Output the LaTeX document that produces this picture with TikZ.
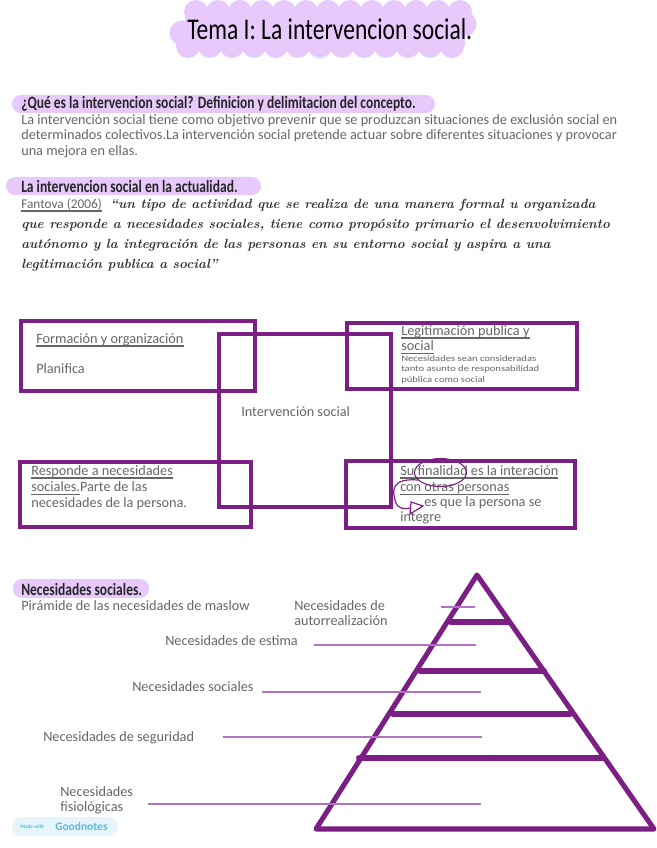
\documentclass[tikz,border=0pt]{standalone}
\usepackage{fontspec}
\usepackage{xcolor}
\setmainfont{Carlito}
\newfontfamily\headfont[FakeStretch=0.78]{Carlito}
\newfontfamily\widefont[FakeStretch=1.22]{Carlito}
\newfontfamily\quotefont{Latin Modern Roman}
\definecolor{pillpurple}{HTML}{E8C9FB}
\definecolor{boxpurple}{HTML}{7B1F84}
\definecolor{leadpurple}{HTML}{B272C2}
\definecolor{notegray}{HTML}{666666}
\definecolor{badgeblue}{HTML}{E6F5FA}
\definecolor{goodblue}{HTML}{5DB9D8}
\newcommand{\ulword}[1]{\setbox0=\hbox{#1}\rlap{\raisebox{-2.6pt}{\rule{\wd0}{1.1pt}}}\box0 }
\tikzset{
  pill/.style={fill=pillpurple,rounded corners=6.7pt},
  boxline/.style={draw=boxpurple,line width=2.6pt},
  pyrline/.style={draw=boxpurple,line width=3.8pt,line cap=round},
  barline/.style={draw=boxpurple,line width=4.6pt,line cap=round},
  leader/.style={draw=leadpurple,line width=1.2pt},
  headtext/.style={anchor=west,inner sep=0pt,text=black!85,font=\headfont\bfseries\fontsize{13}{15}\selectfont},
  bodytext/.style={anchor=north west,inner sep=0pt,align=left,text=notegray,font=\fontsize{10.7}{11.6}\selectfont},
  smalltext/.style={anchor=north west,inner sep=0pt,align=left,text=notegray,font=\widefont\fontsize{6.5}{8}\selectfont},
  quotetext/.style={anchor=west,inner sep=0pt,text=black!80,font=\quotefont\itshape\bfseries\fontsize{10}{12}\selectfont},
}
\begin{document}
\begin{tikzpicture}[x=0.75pt,y=-0.75pt]
  \useasboundingbox (0,0) rectangle (656,848);
  % title blob
  \fill[pillpurple] (185,12) rectangle (465,46);
  \fill[pillpurple] (182,33) circle (12.5);
  \fill[pillpurple] (464,24) circle (12.5);
  \foreach \xa in {196,218,...,460} {
    \fill[pillpurple] (\xa,12) circle (12);
    \fill[pillpurple] (\xa-8,46) circle (12);
  }
  \node[anchor=west,inner sep=0pt,text=black,font=\headfont\fontsize{22.6}{26}\selectfont] (title) at (187,29) {Tema I: La intervencion social.};

  % first part
  \fill[pill] (12,95) rectangle (435,113);
  \node[headtext] (whathead) at (21,104) {¿Qué es la intervencion social? Definicion y delimitacion del concepto.};
  \node[bodytext] (whatbody) at (21,114) {La intervención social tiene como objetivo prevenir que se produzcan situaciones de exclusión social en\\determinados colectivos.La intervención social pretende actuar sobre diferentes situaciones y provocar\\una mejora en ellas.};

  \fill[pill] (6,177) rectangle (261,195);
  \node[headtext] (nowhead) at (21,186) {La intervencion social en la actualidad.};
  \node[anchor=west,inner sep=0pt,text=notegray,font=\fontsize{10}{12}\selectfont] (fantova) at (21,205) {\ulword{Fantova (2006)}};
  \node[quotetext] (quotea) at (110,205) {“un tipo de actividad que se realiza de una manera formal u organizada};
  \node[quotetext] (quoteb) at (21,225) {que responde a necesidades sociales, tiene como propósito primario el desenvolvimiento};
  \node[quotetext] (quotec) at (21,245) {autónomo y la integración de las personas en su entorno social y aspira a una};
  \node[quotetext] (quoted) at (21,265) {legitimación publica a social”};

  % boxes
  \draw[boxline] (21,321) rectangle (255,391);
  \draw[boxline] (219,334) rectangle (391,507);
  \draw[boxline] (347,323) rectangle (577,389);
  \draw[boxline] (20,462) rectangle (251,527);
  \draw[boxline] (346,461) rectangle (575,528);

  \node[bodytext] (formhead) at (36,333) {\ulword{Formación y organización}};
  \node[bodytext] (planifica) at (36,363) {Planifica};
  \node[bodytext] (centre) at (241,406) {Intervención social};
  \node[bodytext] (leghead) at (401,325) {\ulword{Legitimación publica y}\\[0pt]\ulword{social}};
  \node[smalltext] (legbody) at (401,355) {Necesidades sean consideradas\\tanto asunto de responsabilidad\\pública como social};
  \node[bodytext] (respbody) at (31,465) {\ulword{Responde a necesidades}\\[1pt]\ulword{sociales.}Parte de las\\necesidades de la persona.};
  \node[bodytext] (fina) at (400,465) {\ulword{Su finalidad es la interación}\\[1pt]\ulword{con otras personas}};
  \node[bodytext] (finb) at (424,496) {es que la persona se};
  \node[bodytext] (finc) at (400,511) {integre};
  \draw[boxpurple,line width=0.8pt] (440.5,472.5) ellipse (26 and 14);
  \draw[boxpurple,line width=0.9pt] (418,480) .. controls (392,478) and (392,490) .. (395,500) .. controls (397,510) and (405,509) .. (411,508);
  \draw[boxpurple,line width=0.9pt] (411,502) -- (423,506) -- (410,514) -- cycle;

  % pyramid
  \fill[pill] (13,579) rectangle (149,598);
  \node[headtext] (needhead) at (21,589) {Necesidades sociales.};
  \node[bodytext] (maslow) at (21,600) {Pirámide de las necesidades de maslow};

  \coordinate (apex) at (477,575);
  \coordinate (baseleft) at (316,829);
  \coordinate (baseright) at (654,829);
  \draw[pyrline,line join=round] (apex) -- (baseleft) -- (baseright) -- cycle;
  \draw[barline] (451,622) -- (508,622);
  \draw[barline] (420,671) -- (544,671);
  \draw[barline] (393,714) -- (570,714);
  \draw[barline] (359,758) -- (603,758);

  \node[bodytext] (selfneed) at (294,600) {Necesidades de\\autorrealización};
  \node[bodytext] (esteem) at (165,635) {Necesidades de estima};
  \node[bodytext] (social) at (132,681) {Necesidades sociales};
  \node[bodytext] (safety) at (43,731) {Necesidades de seguridad};
  \node[bodytext] (physio) at (60,786) {Necesidades\\fisiológicas};

  \coordinate (selfend) at (475,607);
  \coordinate (esteemend) at (476,645);
  \coordinate (socialend) at (481,692);
  \coordinate (safetyend) at (482,737);
  \coordinate (physioend) at (481,804);
  \draw[leader] (441,607) -- (selfend);
  \draw[leader] (314,645) -- (esteemend);
  \draw[leader] (262,692) -- (socialend);
  \draw[leader] (223,737) -- (safetyend);
  \draw[leader] (148,804) -- (physioend);

  % badge
  \fill[badgeblue,rounded corners=7pt] (12,817) rectangle (118,836);
  \node[anchor=west,inner sep=0pt,text=goodblue,font=\bfseries\fontsize{4}{5}\selectfont] (madewith) at (20,826.5) {Made with};
  \node[anchor=west,inner sep=0pt,text=goodblue,font=\bfseries\fontsize{8.6}{9}\selectfont] (goodnotes) at (55,826.5) {Goodnotes};
\end{tikzpicture}
\end{document}
